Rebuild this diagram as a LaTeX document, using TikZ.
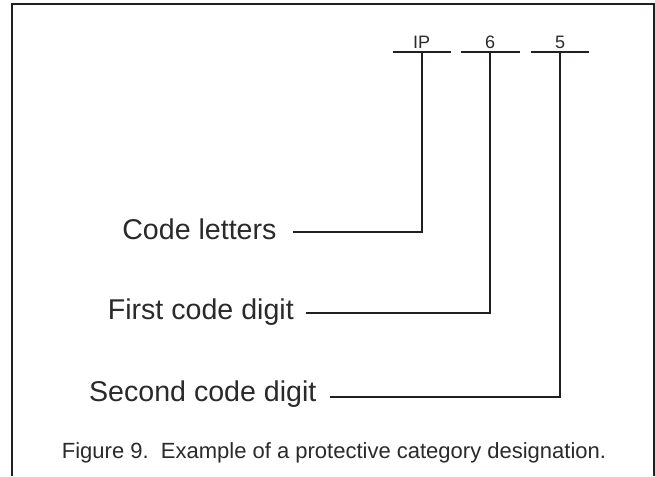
\documentclass[tikz,border=0pt]{standalone}
\usepackage{fontspec}
\setmainfont{Liberation Sans}
\definecolor{ink}{HTML}{231F20}
\definecolor{txt}{HTML}{2A2A2A}
\begin{document}
\begin{tikzpicture}[x=1pt,y=1pt,
  conn/.style={draw=ink,line width=2pt,line cap=butt,line join=miter},
  frame/.style={draw=ink,line width=2pt},
  biglabel/.style={inner sep=0pt,anchor=base east,text=txt,font=\fontsize{28.6}{30}\selectfont},
  toplabel/.style={inner sep=0pt,anchor=base,text=txt,font=\fontsize{18}{20}\selectfont},
  captext/.style={inner sep=0pt,anchor=base west,text=txt,font=\fontsize{22}{24}\selectfont}]
\useasboundingbox (0,0) rectangle (655,476);
\fill[white] (0,0) rectangle (655,476);
\draw[frame] (11.5,0) -- (11.5,472) -- (654,472) -- (654,0);
% top designation
\node[toplabel] (ip) at (421.7,427.7) {IP};
\node[toplabel] (d6) at (490,427.7) {6};
\node[toplabel] (d5) at (560,427.7) {5};
\coordinate (b1l) at (392.7,423.5); \coordinate (b1r) at (451,423.5);
\coordinate (b2l) at (461,423.5);   \coordinate (b2r) at (520,423.5);
\coordinate (b3l) at (530.7,423.5); \coordinate (b3r) at (589.3,423.5);
\coordinate (b1) at (421.7,423.5);
\coordinate (b2) at (490,423.5);
\coordinate (b3) at (560,423.5);
\draw[conn] (b1l) -- (b1r);
\draw[conn] (b2l) -- (b2r);
\draw[conn] (b3l) -- (b3r);
% labels
\node[biglabel] (lab1) at (276.7,236) {Code letters};
\node[biglabel] (lab2) at (294,156) {First code digit};
\node[biglabel] (lab3) at (316.7,74.3) {Second code digit};
\coordinate (c1) at (293,243.7);
\coordinate (c2) at (306,162.7);
\coordinate (c3) at (330,79.3);
\draw[conn] (c1) -| (b1);
\draw[conn] (c2) -| (b2);
\draw[conn] (c3) -| (b3);
% caption
\node[captext] (cap) at (61.7,18) {Figure 9.\ \ Example of a protective category designation.};
\end{tikzpicture}
\end{document}
